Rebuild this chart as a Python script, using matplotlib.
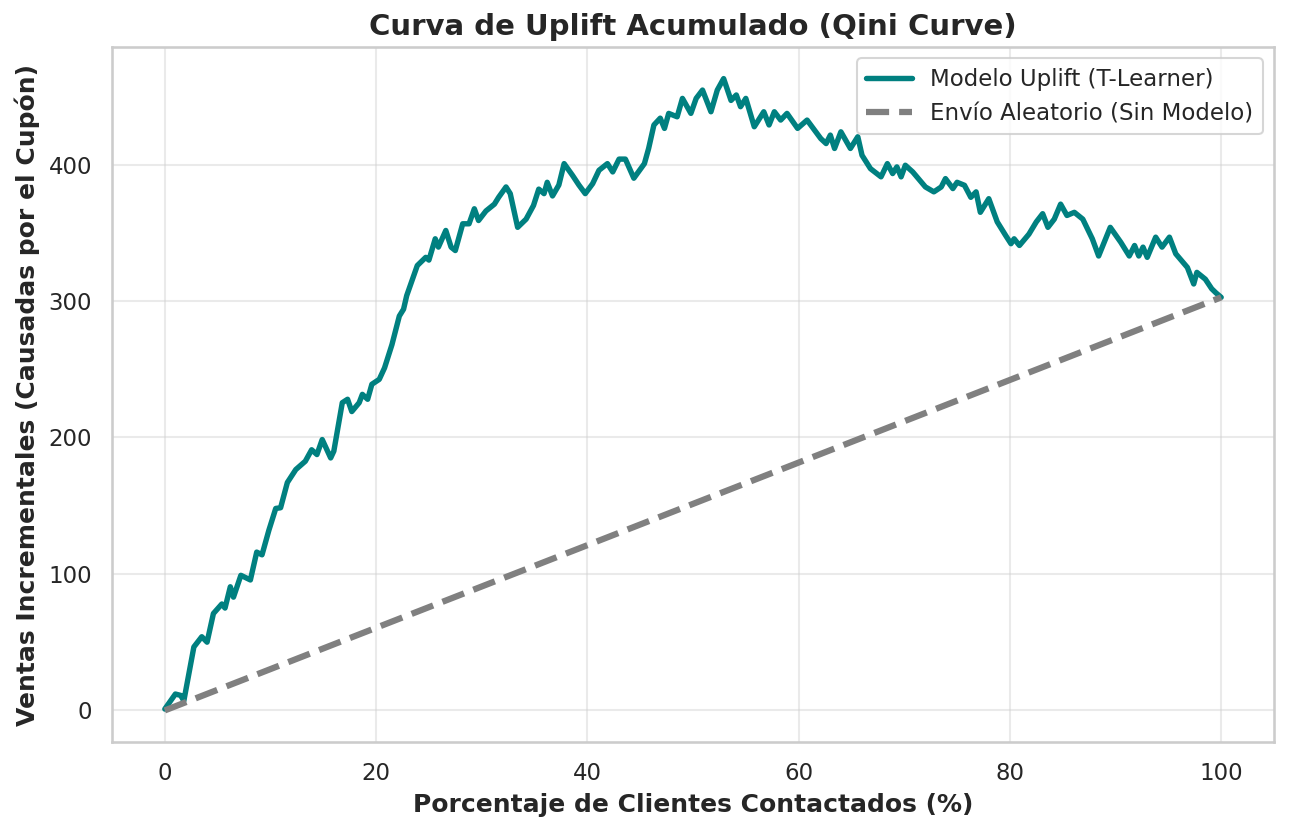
import matplotlib.pyplot as plt
import seaborn as sns

# Porcentaje de clientes contactados (%) y uplift acumulado
pct = [0, 1.0, 1.5, 1.8, 2.75, 3.5, 4.0, 4.6, 5.4, 5.7, 6.2, 6.5, 7.2, 8.1, 8.7,
       9.2, 9.85, 10.5, 10.96, 11.6, 12.4, 13.3, 13.9, 14.4, 14.9, 15.7, 16.0,
       16.8, 17.3, 17.7, 18.4, 18.7, 19.2, 19.6, 20.3, 20.8, 21.5, 22.2, 22.6,
       22.9, 23.9, 24.7, 25.0, 25.6, 25.9, 26.6, 27.1, 27.5, 28.2, 28.8, 29.3,
       29.7, 30.4, 31.2, 31.6, 32.3, 32.7, 33.4, 34.2, 34.9, 35.4, 35.9, 36.2,
       36.7, 37.3, 37.8, 38.6, 39.2, 39.8, 40.5, 41.1, 41.9, 42.4, 43.0, 43.6,
       44.4, 45.4, 45.8, 46.3, 46.9, 47.3, 47.7, 48.5, 49.0, 49.8, 50.3, 50.9,
       51.7, 52.3, 52.9, 53.6, 54.1, 54.5, 55.0, 55.8, 56.7, 57.2, 57.7, 58.3,
       58.9, 59.9, 60.8, 62.1, 62.6, 63.0, 63.4, 64.0, 64.9, 65.6, 66.0, 66.8,
       67.8, 68.4, 68.9, 69.3, 69.7, 70.1, 70.8, 72.0, 72.8, 73.5, 73.9, 74.6,
       75.0, 75.7, 76.3, 76.8, 77.2, 78.0, 78.8, 79.6, 80.1, 80.4, 80.9, 81.8,
       82.5, 83.1, 83.6, 84.2, 84.8, 85.4, 86.1, 86.9, 87.8, 88.4, 89.5, 90.5,
       91.3, 91.8, 92.2, 92.6, 93.0, 93.8, 94.4, 95.1, 95.7, 96.8, 97.4, 97.7,
       98.5, 99.1, 99.5, 100]
uplift = [1, 12, 11, 7, 46.5, 54, 50, 71, 78, 75, 90.6, 83, 99, 95.6, 116,
          114, 132, 148, 148.5, 167, 176.5, 182.6, 191, 187.5, 198.5, 185, 190,
          225.5, 228, 219, 225.5, 231.6, 228, 239, 242.6, 251, 268, 289, 294,
          304, 326, 332, 330, 345.6, 339.5, 351.7, 339.5, 337, 356.6, 356.6, 367.6,
          359, 366, 371, 376, 383.6, 378.7, 354, 360, 370, 382, 378.7, 387,
          377, 385, 400.7, 392, 385, 378.7, 386, 395.8, 400.7, 394.6, 404, 404,
          390, 400.7, 411.8, 429, 434, 426.5, 437.5, 435, 448.5, 437.5, 448.5, 454.6,
          438.7, 454.6, 463, 447, 451, 442.4, 448.5, 427.7, 438.7, 429, 438.7, 432.6,
          437.5, 426.5, 432.6, 419, 415.4, 421.6, 411.8, 424, 411.8, 420.4, 406.8, 397,
          391, 400.7, 393.4, 398.3, 391, 399.5, 394.6, 383.6, 380, 383.6, 389.7, 382.4,
          387, 384.8, 376, 380, 365, 375, 358, 348, 342, 345.6, 340.7, 349,
          358, 364, 354, 360, 371, 362.7, 365, 360, 345.6, 333, 354, 343,
          333, 340.7, 333, 339.5, 332, 346.8, 339.5, 346.8, 334.6, 324.6, 312.5, 321,
          316, 309, 306, 302.7]

sns.set_theme(style="whitegrid")
plt.rcParams['font.family'] = ['DejaVu Sans']

fig = plt.figure(figsize=(1289 / 150, 832 / 150), dpi=150)
ax = fig.add_axes([112 / 1289, 1 - 742 / 832, (1274 - 112) / 1289, (742 - 47) / 832])

ax.plot(pct, uplift, color='teal', linewidth=2.6, label='Modelo Uplift (T-Learner)')
ax.plot([0, 100], [0, uplift[-1]], color='gray', linestyle='--', linewidth=3,
        label='Envío Aleatorio (Sin Modelo)')

ax.set_title('Curva de Uplift Acumulado (Qini Curve)', fontsize=14, fontweight='bold')
ax.set_xlabel('Porcentaje de Clientes Contactados (%)', fontsize=12, fontweight='bold')
ax.set_ylabel('Ventas Incrementales (Causadas por el Cupón)', fontsize=12, fontweight='bold')
ax.tick_params(labelsize=11)
ax.grid(True, alpha=0.4)
ax.legend(loc='upper right', fontsize=11)

fig.savefig('out.png', dpi=150)
